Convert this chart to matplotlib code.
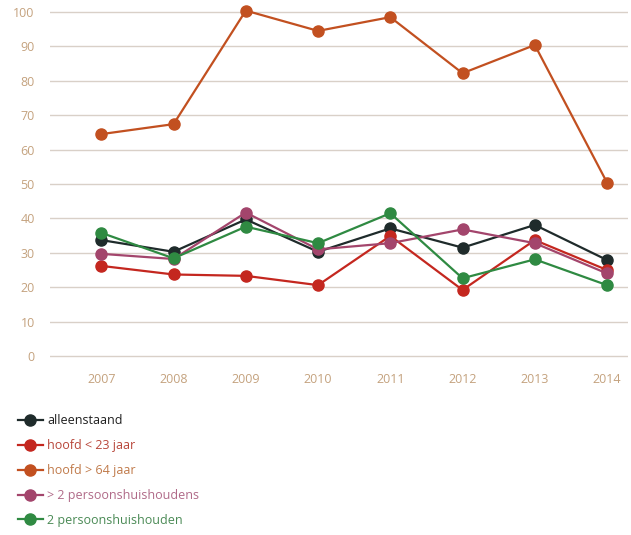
import numpy as np
import matplotlib.pyplot as plt
from matplotlib.lines import Line2D

plt.rcParams['font.family'] = ['Open Sans', 'DejaVu Sans']

years = [2007, 2008, 2009, 2010, 2011, 2012, 2013, 2014]

alleenstaand = [33.7, 30.3, 39.7, 30.3, 37.1, 31.5, 38.1, 27.9]
hoofd_jong = [26.2, 23.7, 23.3, 20.6, 34.9, 19.2, 33.7, 25.0]
hoofd_oud = [64.5, 67.4, 100.4, 94.5, 98.5, 82.2, 90.4, 50.4]
meer_dan_2 = [29.7, 28.2, 41.7, 31.0, 32.8, 36.8, 32.8, 24.0]
twee_pers = [35.8, 28.4, 37.6, 32.8, 41.5, 22.6, 28.1, 20.6]

labels = ['alleenstaand', 'hoofd < 23 jaar', 'hoofd > 64 jaar',
          '> 2 persoonshuishoudens', '2 persoonshuishouden']
series = [alleenstaand, hoofd_jong, hoofd_oud, meer_dan_2, twee_pers]
colors = ['#1f2b2b', '#c4271f', '#c25020', '#a3456c', '#2f8a42']
text_colors = ['#1e1e1e', '#b8463a', '#c07a4a', '#b06a88', '#4a8a55']

fig = plt.figure(figsize=(6.31, 5.35), dpi=100)
# y: 0 at px 356, 100 at px 12 -> ylim padded by 2 units each side
ax = fig.add_axes([50 / 631, 1 - 362.9 / 535, 578 / 631, 357.8 / 535])

for vals, c, lab in zip(series, colors, labels):
    ax.plot(years, vals, color=c, lw=1.6, marker='o', ms=8, mec=c,
            clip_on=False, label=lab)

ax.set_xlim(2006.29, 2014.29)
ax.set_ylim(-2, 102)
ax.set_yticks(range(0, 101, 10))
ax.set_xticks(years)
ax.grid(axis='y', color='#d9d0c8', lw=1)
ax.set_axisbelow(True)
for s in ax.spines.values():
    s.set_visible(False)
ax.tick_params(length=0, labelsize=9, colors='#c4a27e')
ax.tick_params(axis='y', pad=11)
ax.tick_params(axis='x', pad=7)

handles = [Line2D([], [], color=c, lw=1.6, marker='o', ms=8) for c in colors]
leg = fig.legend(handles, labels, loc='upper left',
                 bbox_to_anchor=(0.01, 1 - 403 / 535), frameon=False,
                 fontsize=9, labelspacing=0.95, handlelength=2.0,
                 handletextpad=0.35)
for t, c in zip(leg.get_texts(), text_colors):
    t.set_color(c)

fig.savefig('out.png', dpi=100, facecolor='white')
